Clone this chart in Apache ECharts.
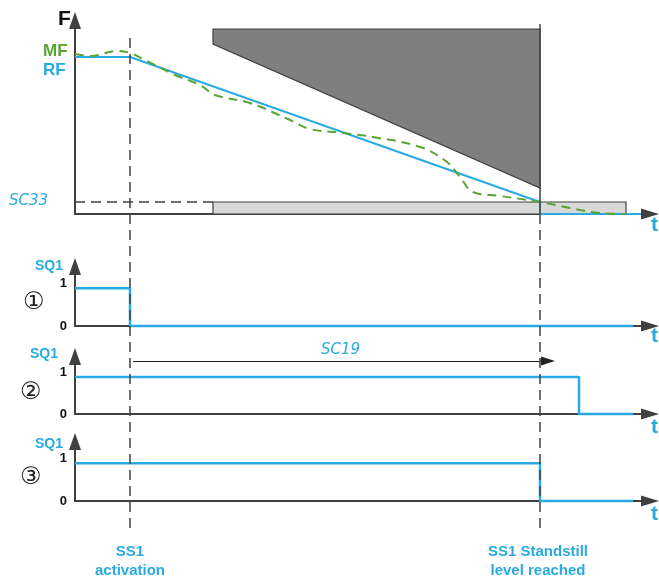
<!DOCTYPE html>
<html>
<head>
<meta charset="utf-8">
<script src="https://cdn.jsdelivr.net/npm/echarts@6/dist/echarts.min.js"></script>
<style>
  html, body { margin: 0; padding: 0; background: #fff; }
  #main { width: 659px; height: 576px; }
</style>
</head>
<body>
<div id="main"></div>
<script>
// time axis: 0 = F axis, units
var tActivation = 55;
var tStandstill = 465;
var tSC19End = 473;

// top panel: force profile
var rfCurve = [[0, 157], [55, 157], [465, 12], [465, 0], [566, 0]];
var mfCurve = [[0, 160], [15, 158], [42, 163], [55, 161], [70, 154], [100, 139], [125, 129],
               [140, 119], [175, 111], [215, 94], [235, 85], [268, 81], [298, 77], [345, 67],
               [372, 52], [385, 37], [398, 22], [425, 18], [465, 12], [495, 6], [525, 1], [551, 0]];
var sc33Level = 12;
var trapezoid = [[138, 185], [465, 185], [465, 26], [138, 170]];
var zoneBox = [[138, 0], [551, 0], [551, 12], [138, 12]];

// SQ1 signals for cases 1..3
var sq1Case1 = [[0, 0.88], [55, 0.88], [55, 0], [558, 0]];
var sq1Case2 = [[0, 0.88], [504, 0.88], [504, 0], [558, 0]];
var sq1Case3 = [[0, 0.88], [465, 0.88], [465, 0], [558, 0]];
var sc19Level = 1.26;

// overlay (pixel rows) for the vertical markers
var activationLine = [[tActivation, 38], [tActivation, 533]];
var standstillSolid = [[tStandstill, 24], [tStandstill, 214]];
var standstillDashed = [[tStandstill, 214], [tStandstill, 533]];

var BLUE = '#29abe2', GREEN = '#5aa532', DARK = '#404040';
var FONT = '"Liberation Sans", Arial, sans-serif';
var LCD = '"DejaVu Sans", sans-serif';

var myChart = echarts.init(document.getElementById('main'));

function xAx(i) {
    return {
        gridIndex: i, type: 'value', min: 0, max: 575,
        axisLine: { show: i < 4, lineStyle: { color: DARK, width: 2 }, symbol: ['none', 'triangle'], symbolSize: [11, 18] },
        axisTick: { show: false }, axisLabel: { show: false }, splitLine: { show: false }
    };
}
function yAx(i, max, labels) {
    return {
        gridIndex: i, type: 'value', min: 0, max: max, interval: 1,
        axisLine: { show: true, onZero: false, lineStyle: { color: DARK, width: 2 }, symbol: ['none', 'triangle'], symbolSize: [12, 17] },
        axisTick: { show: false }, splitLine: { show: false },
        axisLabel: {
            show: labels, margin: 8, color: '#111', fontWeight: 'bold', fontSize: 13, fontFamily: FONT,
            formatter: function (v) { return (v === 0 || v === 1) ? String(v) : ''; }
        }
    };
}

var trapPolys = [
    { pts: zoneBox, fill: '#d9d9d9' },
    { pts: trapezoid, fill: '#7f7f7f' }
];

var option = {
    animation: false,
    grid: [
        { left: 75, width: 575, top: 20.5, height: 193.5 },
        { left: 75, width: 575, top: 266.5, height: 59.5 },
        { left: 75, width: 575, top: 356.5, height: 57.5 },
        { left: 75, width: 575, top: 441.5, height: 59.5 },
        { left: 75, width: 575, top: 0, height: 576 }
    ],
    xAxis: [xAx(0), xAx(1), xAx(2), xAx(3), xAx(4)],
    yAxis: [
        Object.assign(yAx(0, 193.5, false), { interval: 193.5 }),
        yAx(1, 1.384, true),
        yAx(2, 1.369, true),
        yAx(3, 1.384, true),
        { gridIndex: 4, type: 'value', min: 0, max: 576, inverse: true, show: false }
    ],
    graphic: [
        { type: 'text', left: 58, top: 9, style: { text: 'F', font: 'bold 21px ' + FONT, fill: '#111' } },
        { type: 'text', left: 43, top: 43, style: { text: 'MF', font: 'bold 17px ' + FONT, fill: GREEN } },
        { type: 'text', left: 43, top: 62, style: { text: 'RF', font: 'bold 17px ' + FONT, fill: BLUE } },
        { type: 'text', left: 9, top: 194, style: { text: 'SC33', font: 'italic 15px ' + LCD, fill: BLUE, letterSpacing: 6 } },
        { type: 'text', left: 35, top: 259, style: { text: 'SQ1', font: 'bold 14px ' + FONT, fill: BLUE } },
        { type: 'text', left: 30, top: 347, style: { text: 'SQ1', font: 'bold 14px ' + FONT, fill: BLUE } },
        { type: 'text', left: 35, top: 437, style: { text: 'SQ1', font: 'bold 14px ' + FONT, fill: BLUE } },
        { type: 'text', left: 23, top: 291, style: { text: '①', font: '24px "DejaVu Sans"', fill: '#222' } },
        { type: 'text', left: 20, top: 381, style: { text: '②', font: '24px "DejaVu Sans"', fill: '#222' } },
        { type: 'text', left: 20, top: 466, style: { text: '③', font: '24px "DejaVu Sans"', fill: '#222' } },
        { type: 'text', left: 651, top: 215, style: { text: 't', font: 'bold 21px ' + FONT, fill: BLUE } },
        { type: 'text', left: 651, top: 326, style: { text: 't', font: 'bold 21px ' + FONT, fill: BLUE } },
        { type: 'text', left: 651, top: 417, style: { text: 't', font: 'bold 21px ' + FONT, fill: BLUE } },
        { type: 'text', left: 651, top: 504, style: { text: 't', font: 'bold 21px ' + FONT, fill: BLUE } },
        { type: 'text', x: 130, y: 542, style: { text: 'SS1\nactivation', font: 'bold 15px ' + FONT, fill: BLUE, align: 'center', lineHeight: 19 } },
        { type: 'text', x: 538, y: 542, style: { text: 'SS1 Standstill\nlevel reached', font: 'bold 15px ' + FONT, fill: BLUE, align: 'center', lineHeight: 19 } }
    ],
    series: [
        {
            type: 'custom', xAxisIndex: 0, yAxisIndex: 0, z: 1,
            data: [[0, 0], [1, 0]],
            renderItem: function (params, api) {
                var p = trapPolys[params.dataIndex];
                return {
                    type: 'polygon',
                    shape: { points: p.pts.map(function (c) { return api.coord(c); }) },
                    style: { fill: p.fill, stroke: DARK, lineWidth: 1.2 }
                };
            }
        },
        {
            type: 'line', xAxisIndex: 0, yAxisIndex: 0, data: rfCurve, symbol: 'none', z: 4, clip: false,
            lineStyle: { color: BLUE, width: 2 },
            markLine: {
                silent: true, symbol: 'none', label: { show: false },
                lineStyle: { color: DARK, type: [10, 6], width: 1.5 },
                data: [[{ coord: [0, sc33Level] }, { coord: [138, sc33Level] }]]
            }
        },
        {
            type: 'line', xAxisIndex: 0, yAxisIndex: 0, data: mfCurve, symbol: 'none', smooth: 0.4, z: 5,
            lineStyle: { color: GREEN, width: 2, type: [9, 6] }
        },
        {
            type: 'line', xAxisIndex: 1, yAxisIndex: 1, data: sq1Case1, symbol: 'none', clip: false,
            lineStyle: { color: BLUE, width: 2.5 }
        },
        {
            type: 'line', xAxisIndex: 2, yAxisIndex: 2, data: sq1Case2, symbol: 'none', clip: false,
            lineStyle: { color: BLUE, width: 2.5 },
            markLine: {
                silent: true, symbol: ['none', 'triangle'], symbolSize: [9, 14],
                lineStyle: { color: '#222', type: 'solid', width: 1.2 },
                label: { show: true, position: 'middle', formatter: 'SC19', color: BLUE, distance: 3,
                         fontStyle: 'italic', fontSize: 15, fontFamily: LCD, letterSpacing: 6 },
                data: [[{ coord: [tActivation + 3, sc19Level] }, { coord: [tSC19End, sc19Level] }]]
            }
        },
        {
            type: 'line', xAxisIndex: 3, yAxisIndex: 3, data: sq1Case3, symbol: 'none', clip: false,
            lineStyle: { color: BLUE, width: 2.5 }
        },
        {
            type: 'line', xAxisIndex: 4, yAxisIndex: 4, data: activationLine, symbol: 'none', z: 6,
            lineStyle: { color: DARK, width: 1.5, type: [10, 6] }
        },
        {
            type: 'line', xAxisIndex: 4, yAxisIndex: 4, data: standstillSolid, symbol: 'none', z: 6,
            lineStyle: { color: DARK, width: 1.5 }
        },
        {
            type: 'line', xAxisIndex: 4, yAxisIndex: 4, data: standstillDashed, symbol: 'none', z: 6,
            lineStyle: { color: DARK, width: 1.5, type: [10, 6] }
        }
    ]
};

myChart.setOption(option);
window.addEventListener('resize', function () {
    myChart.resize();
});
</script>
</body>
</html>
